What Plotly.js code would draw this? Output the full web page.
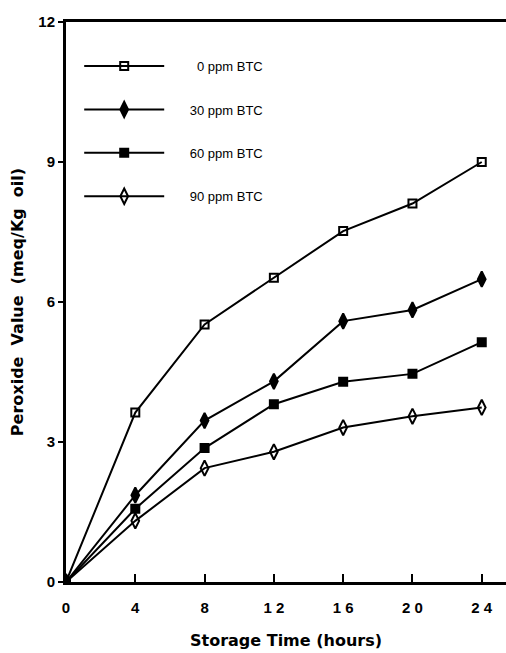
<!DOCTYPE html>
<html>
<head>
<meta charset="utf-8">
<script src="https://cdn.plot.ly/plotly-3.0.1.min.js"></script>
<style>html,body{margin:0;padding:0;background:#fff;}#chart{width:506px;height:653px;}</style>
</head>
<body>
<div id="chart"></div>
<script>
const hours = [0, 4, 8, 12, 16, 20, 24];
const xTickVals = [0, 4, 8, 12, 16, 20, 24];
const xTickText = ["0", "4", "8", "1 2", "1 6", "2 0", "2 4"];
const yTickVals = [0, 3, 6, 9, 12];
const seriesNames = ["0 ppm BTC", "30 ppm BTC", "60 ppm BTC", "90 ppm BTC"];
const ppm0 = [0, 3.63, 5.52, 6.52, 7.52, 8.11, 9.0];
const ppm30 = [0, 1.86, 3.46, 4.3, 5.59, 5.83, 6.49];
const ppm60 = [0, 1.57, 2.87, 3.81, 4.29, 4.46, 5.14];
const ppm90 = [0, 1.31, 2.44, 2.79, 3.31, 3.55, 3.74];

const symbols = ["square-open", "diamond-tall", "square", "diamond-tall-open"];
const sizes = [8, 11, 8, 11];
const allSeries = [ppm0, ppm30, ppm60, ppm90];
const pads = ["\u2003\u2002\u200A\u2007", "\u2003\u2002\u200A", "\u2003\u2002\u200A", "\u2003\u2002\u200A"];

const traces = allSeries.map((ys, i) => ({
  x: hours, y: ys, name: pads[i] + seriesNames[i], type: 'scatter', mode: 'lines+markers',
  legendgroup: 'g' + i,
  line: {color: '#000', width: 2},
  marker: {symbol: symbols[i], size: sizes[i], color: '#000', line: {color: '#000', width: 2}}
}));

const tickFont = "Liberation Sans, Arial, Helvetica, sans-serif";
const titleFont = "DejaVu Sans, Verdana, sans-serif";
const layout = {
  width: 506, height: 653,
  margin: {l: 66, r: 0, t: 22, b: 71},
  paper_bgcolor: '#fff', plot_bgcolor: '#fff',
  showlegend: true,
  legend: {
    x: 0.03, y: 0.948, xanchor: 'left', yanchor: 'top',
    bgcolor: 'rgba(0,0,0,0)', itemwidth: 80, tracegroupgap: 23.5,
    traceorder: 'grouped',
    font: {family: "Liberation Sans Narrow, Arial Narrow, Liberation Sans, sans-serif", size: 13, color: '#000'}
  },
  xaxis: {
    range: [0, 25.4], tickvals: xTickVals, ticktext: xTickText,
    ticks: 'inside', ticklen: 8, tickwidth: 2, tickcolor: '#000',
    ticklabelstandoff: 10,
    showline: true, linewidth: 3, linecolor: '#000', mirror: true,
    showgrid: false, zeroline: false,
    tickfont: {family: tickFont, size: 15, color: '#000', weight: 'bold'},
    title: {text: '<b>Storage Time (hours)</b>', font: {family: titleFont, size: 16, color: '#000'}, standoff: 20}
  },
  yaxis: {
    range: [0, 12], tickvals: yTickVals,
    ticks: 'outside', ticklen: 5, tickwidth: 2, tickcolor: '#000',
    showline: true, linewidth: 3, linecolor: '#000',
    showgrid: false, zeroline: false,
    tickfont: {family: tickFont, size: 15, color: '#000', weight: 'bold'},
    title: {text: '<b>Peroxide  Value  (meq/Kg  oil)</b>', font: {family: titleFont, size: 16, color: '#000'}, standoff: 11}
  }
};

Plotly.newPlot('chart', traces, layout, {displayModeBar: false, staticPlot: true});
</script>
</body>
</html>
